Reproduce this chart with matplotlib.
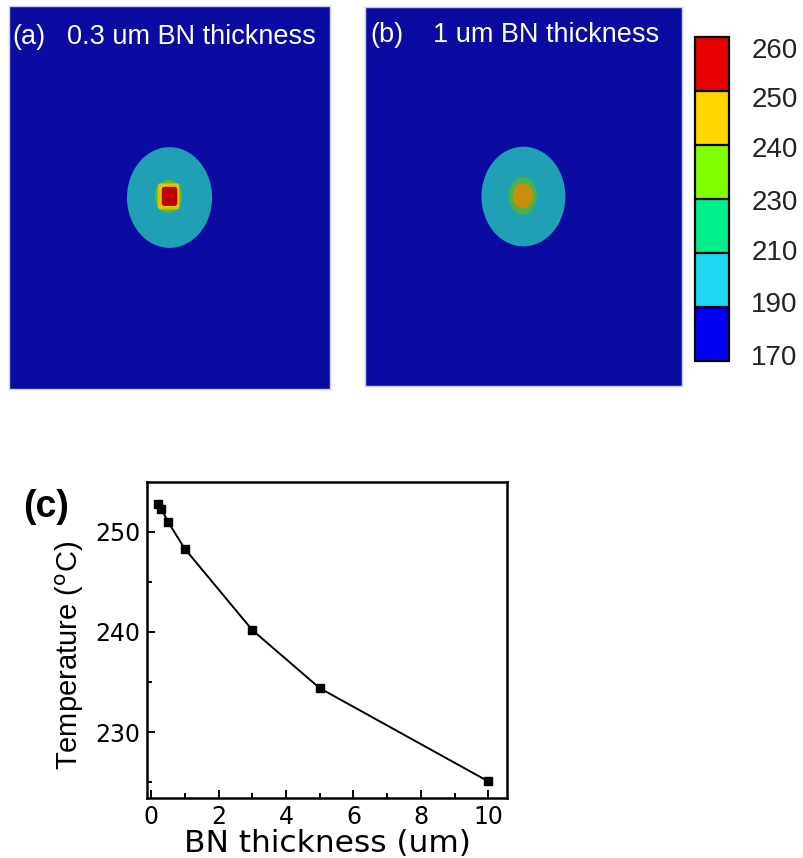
import matplotlib
matplotlib.use("Agg")
import matplotlib.pyplot as plt
from matplotlib.colors import ListedColormap, BoundaryNorm
from matplotlib.patches import Ellipse, FancyBboxPatch
import matplotlib.transforms as mtransforms
import matplotlib.cm as cm

# ---------------- data ----------------
cbar_levels = [170, 190, 210, 230, 240, 250, 260]
cbar_colors = ["#0000F0", "#1ED8F2", "#00F08C", "#80FF00", "#FFD700", "#E60000"]

thickness_um = [0.2, 0.3, 0.5, 1, 3, 5, 10]
temperature_c = [252.8, 252.3, 251.0, 248.3, 240.2, 234.4, 225.1]

panel_titles = ["0.3 um BN thickness", "1 um BN thickness"]
panel_tags = ["(a)", "(b)"]

# ---------------- figure ----------------
fig = plt.figure(figsize=(8.04, 8.58), dpi=100)

bg = "#0B0BA2"
teal = "#1FA0B4"

def map_panel(rect, tag, title, tag_x, title_x, title_y, inner):
    ax = fig.add_axes(rect)
    ax.set_xlim(0, 1)
    ax.set_ylim(0, 1)
    ax.set_facecolor(bg)
    ax.set_xticks([])
    ax.set_yticks([])
    for s in ax.spines.values():
        s.set_color("#C8D0F0")
        s.set_linewidth(1.0)
    ax.add_patch(Ellipse((0.5, 0.5), 0.265, 0.263, facecolor=teal, edgecolor="none"))
    for (cx, cy, w, h, col, kind) in inner:
        if kind == "e":
            ax.add_patch(Ellipse((cx, cy), w, h, facecolor=col, edgecolor="none"))
        else:
            ax.add_patch(FancyBboxPatch((cx - w / 2, cy - h / 2), w, h,
                                        boxstyle="round,pad=0,rounding_size=0.008",
                                        facecolor=col, edgecolor="none"))
    ax.text(tag_x, title_y, tag, color="white", fontsize=19.5,
            family="Liberation Sans", va="center", ha="left", transform=ax.transAxes)
    ax.text(title_x, title_y, title, color="white", fontsize=19.5,
            family="Liberation Sans", va="center", ha="left", transform=ax.transAxes)
    return ax

inner_a = [
    (0.497, 0.503, 0.085, 0.086, "#5DB832", "e"),
    (0.497, 0.503, 0.068, 0.068, "#D8C800", "r"),
    (0.500, 0.503, 0.048, 0.050, "#C00000", "r"),
]
inner_b = [
    (0.498, 0.502, 0.088, 0.100, "#4CB048", "e"),
    (0.498, 0.502, 0.064, 0.066, "#C8900A", "e"),
]

map_panel([0.0112, 0.5466, 0.3993, 0.4464], panel_tags[0], panel_titles[0],
          0.012, 0.18, 0.92, inner_a)
map_panel([0.454, 0.5501, 0.394, 0.4417], panel_tags[1], panel_titles[1],
          0.016, 0.215, 0.926, inner_b)

# colorbar
cax = fig.add_axes([0.8644, 0.5793, 0.0423, 0.3776])
cmap = ListedColormap(cbar_colors)
norm = BoundaryNorm(cbar_levels, cmap.N)
cb = fig.colorbar(cm.ScalarMappable(norm=norm, cmap=cmap), cax=cax,
                  spacing="uniform", drawedges=True, ticks=cbar_levels)
cb.outline.set_linewidth(1.6)
cb.outline.set_edgecolor("black")
cb.dividers.set_color("black")
cb.dividers.set_linewidth(1.6)
cax.tick_params(length=0, pad=16)
cb.set_ticklabels([str(v) for v in cbar_levels])
label_shift_px = [6, 5, 3, -1, -2, -6, -11]  # bottom to top, pixel nudges
for t, dy in zip(cax.get_yticklabels(), label_shift_px):
    t.set_fontsize(20)
    t.set_family("Liberation Sans")
    t.set_color("#222222")
    t.set_transform(t.get_transform() +
                    mtransforms.ScaledTranslation(0, dy / 100.0, fig.dpi_scale_trans))

# panel c
ax = fig.add_axes([0.1828, 0.0699, 0.4478, 0.3683])
ax.plot(thickness_um, temperature_c, color="black", linewidth=1.4,
        marker="s", markersize=6, markerfacecolor="black", markeredgecolor="black")
ax.set_xlim(-0.12, 10.55)
ax.set_ylim(223.45, 254.95)
ax.set_xticks([0, 2, 4, 6, 8, 10])
ax.set_xticks([1, 3, 5, 7, 9], minor=True)
ax.set_yticks([230, 240, 250])
ax.set_yticks([225, 235, 245], minor=True)
ax.tick_params(which="both", direction="in", top=False, right=False, width=1.4)
ax.tick_params(which="major", length=6, labelsize=17, pad=5)
ax.tick_params(which="minor", length=3.5)
for s in ax.spines.values():
    s.set_linewidth(1.8)
ax.set_xlabel("BN thickness (um)", fontsize=22.5, labelpad=0)
ax.set_ylabel("Temperature ($^{\\mathrm{o}}$C)", fontsize=21,
              family="Liberation Sans")
ax.yaxis.set_label_coords(-0.17, 0.45)
fig.text(0.057, 1 - 507 / 858, "(c)", fontsize=27, fontweight="bold",
         family="Liberation Sans", ha="center", va="center")

fig.savefig("out.png", dpi=100)
